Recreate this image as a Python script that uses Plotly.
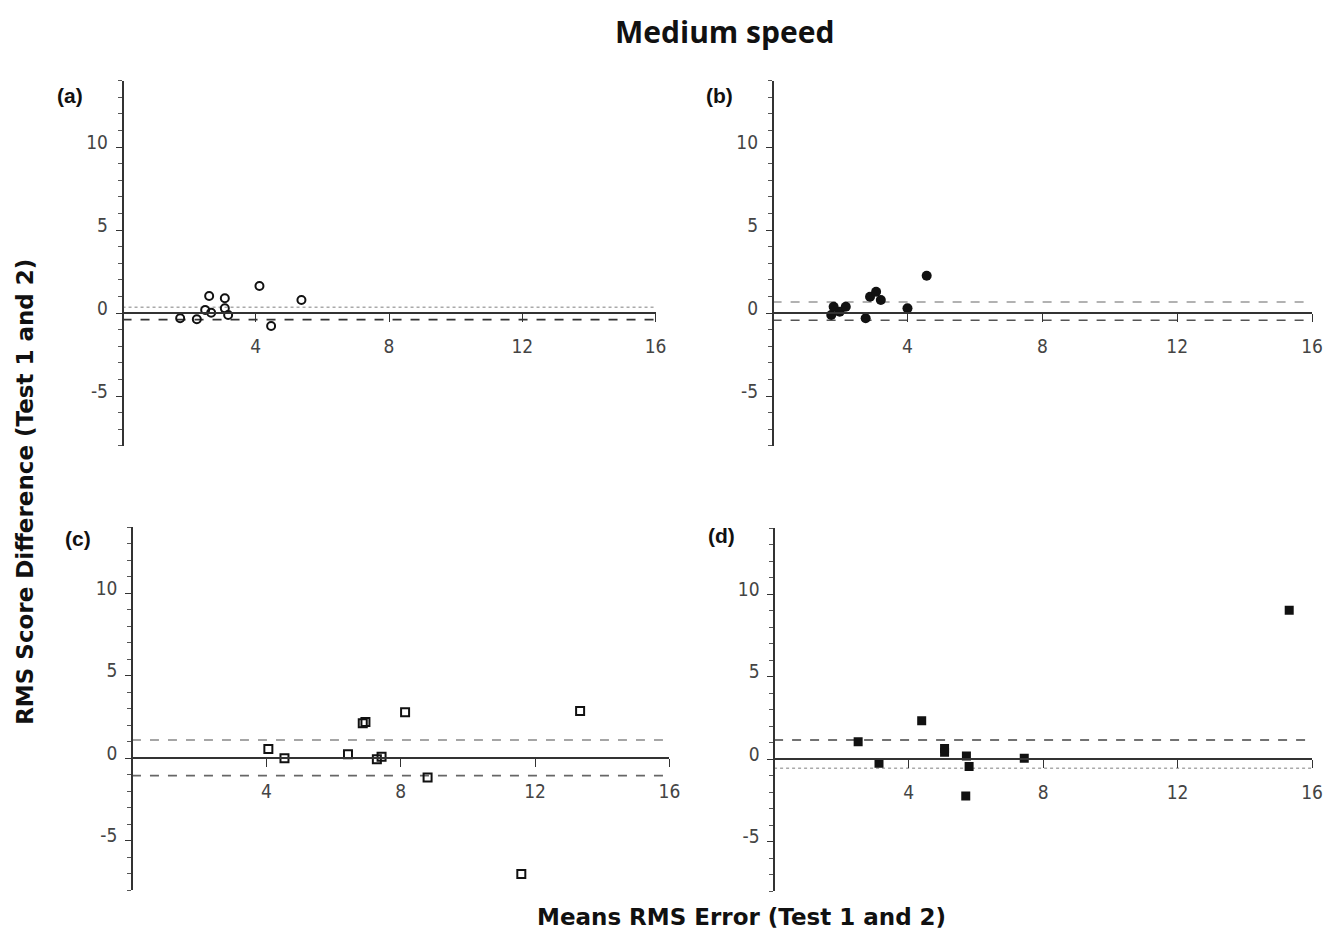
import plotly.graph_objects as go

# ---------------- data ----------------
a_x = [1.73, 2.23, 2.48, 2.60, 2.66, 3.07, 3.07, 3.17, 4.11, 4.46, 5.37]
a_y = [-0.32, -0.38, 0.18, 1.02, 0.02, 0.89, 0.28, -0.12, 1.63, -0.78, 0.78]
a_limits = [0.35, -0.40]

b_x = [1.74, 1.81, 1.99, 2.17, 2.76, 2.89, 3.07, 3.21, 4.00, 4.57]
b_y = [-0.12, 0.38, 0.08, 0.38, -0.32, 0.98, 1.28, 0.78, 0.28, 2.24]
b_limits = [0.66, -0.44]

c_x = [4.06, 4.54, 6.43, 6.87, 6.95, 7.29, 7.43, 8.13, 8.80, 11.59, 13.34]
c_y = [0.57, 0.00, 0.24, 2.12, 2.20, -0.06, 0.10, 2.79, -1.17, -7.01, 2.87]
c_limits = [1.11, -1.05]

d_x = [2.50, 3.12, 4.39, 5.07, 5.07, 5.72, 5.80, 5.70, 7.44, 15.32]
d_y = [1.07, -0.24, 2.34, 0.42, 0.65, 0.20, -0.44, -2.22, 0.06, 9.03]
d_limits = [1.17, -0.54]

panel_labels = ["(a)", "(b)", "(c)", "(d)"]
x_tickvals = [4, 8, 12, 16]
y_tickvals = [-5, 0, 5, 10]
y_ticktext = ["-5", "0", "5", "10"]
x_range = [0, 16]
y_range = [-8, 14]

title_text = "<b>Medium speed</b>"
x_title = "<b>Means RMS Error (Test 1 and 2)</b>"
y_title = "<b>RMS Score Difference (Test 1 and 2)</b>"

# ---------------- layout helpers ----------------
PAGE_W, PAGE_H = 1341, 938
OFF = 8  # default body margin of the html page
W, H = PAGE_W - 2 * OFF, PAGE_H - 2 * OFF

def fx(px):
    return (px - OFF) / W

def fy(py):
    return 1 - (py - OFF) / H

# pixel geometry (page coords): x0 px, x16 px, y(0) px, px per y unit
panels = [
    dict(x0=123.5, x16=661, yz=313.0, pu=16.6),
    dict(x0=779.0, x16=1323, yz=313.0, pu=16.6),
    dict(x0=133.0, x16=675, yz=758.3, pu=16.5),
    dict(x0=780.5, x16=1323, yz=759.3, pu=16.5),
]
series = [
    (a_x, a_y, a_limits, dict(symbol="circle-open", size=8, color="#111", line=dict(width=2, color="#111")),
     ["dot", "dash"], ["#aaaaaa", "#333333"]),
    (b_x, b_y, b_limits, dict(symbol="circle", size=10, color="#111"),
     ["dash", "dash"], ["#999999", "#555555"]),
    (c_x, c_y, c_limits, dict(symbol="square-open", size=8, color="#111", line=dict(width=2, color="#111")),
     ["dash", "dash"], ["#888888", "#666666"]),
    (d_x, d_y, d_limits, dict(symbol="square", size=9, color="#111"),
     ["dash", "dot"], ["#444444", "#aaaaaa"]),
]
label_pos = [(71, 96), (725, 96), (79, 538), (727, 535)]

fig = go.Figure()
tick_font = dict(family="DejaVu Sans Condensed, Liberation Sans Narrow, sans-serif", size=19, color="#444")

for i, (p, s) in enumerate(zip(panels, series)):
    xs, ys, lims, mk, dashes, lcols = s
    n = "" if i == 0 else str(i + 1)
    xa = "x" + n
    ya = "y" + n
    top_px = p["yz"] - y_range[1] * p["pu"]
    bot_px = p["yz"] - y_range[0] * p["pu"]
    for lim, dsh, lc in zip(lims, dashes, lcols):
        fig.add_trace(go.Scatter(x=x_range, y=[lim, lim], mode="lines",
                                 line=dict(color=lc, width=1.6, dash=dsh),
                                 xaxis=xa, yaxis=ya, showlegend=False, hoverinfo="skip"))
    fig.add_trace(go.Scatter(x=xs, y=ys, mode="markers", marker=mk,
                             xaxis=xa, yaxis=ya, showlegend=False))
    fig.layout["xaxis" + n] = dict(
        domain=[fx(p["x0"]), fx(p["x16"])], range=x_range, anchor="free",
        position=fy(p["yz"]),
        showline=True, linecolor="#333", linewidth=1.5,
        ticks="outside", ticklen=8, tickwidth=1.3, tickcolor="#333",
        tickvals=x_tickvals, tickfont=tick_font, ticklabelstandoff=8,
        showgrid=False, zeroline=False,
    )
    fig.layout["yaxis" + n] = dict(
        domain=[fy(bot_px), fy(top_px)], range=y_range, anchor="free",
        position=fx(p["x0"]),
        showline=True, linecolor="#333", linewidth=1.5,
        ticks="outside", ticklen=6, tickwidth=1.3, tickcolor="#333",
        tickvals=y_tickvals, ticktext=y_ticktext, tickfont=tick_font,
        ticklabelshift=-5, ticklabelstandoff=4,
        minor=dict(dtick=1, tick0=0, ticks="outside", ticklen=4, tickcolor="#555", showgrid=False),
        showgrid=False, zeroline=False,
    )
    lx, ly = label_pos[i]
    fig.add_annotation(text="<b>" + panel_labels[i] + "</b>", x=fx(lx), y=fy(ly),
                       xref="paper", yref="paper", showarrow=False,
                       xanchor="center", yanchor="middle",
                       font=dict(family="Liberation Sans, Arial, sans-serif", size=21, color="#111"))

fig.add_annotation(text=title_text, x=fx(730), y=fy(31), xref="paper", yref="paper",
                   xanchor="center", yanchor="middle", showarrow=False,
                   font=dict(family="Open Sans, Liberation Sans, sans-serif", size=30, color="#111"))
fig.add_annotation(text=x_title, x=fx(748), y=fy(917), xref="paper", yref="paper",
                   xanchor="center", yanchor="middle", showarrow=False,
                   font=dict(family="DejaVu Sans, Liberation Sans, sans-serif", size=23, color="#111"))
fig.add_annotation(text=y_title, x=fx(25), y=fy(492), xref="paper", yref="paper",
                   xanchor="center", yanchor="middle", showarrow=False, textangle=-90,
                   font=dict(family="DejaVu Sans, Liberation Sans, sans-serif", size=23, color="#111"))

fig.update_layout(width=W, height=H, margin=dict(l=0, r=0, t=0, b=0),
                  paper_bgcolor="white", plot_bgcolor="white")

fig.write_html("out.html")
